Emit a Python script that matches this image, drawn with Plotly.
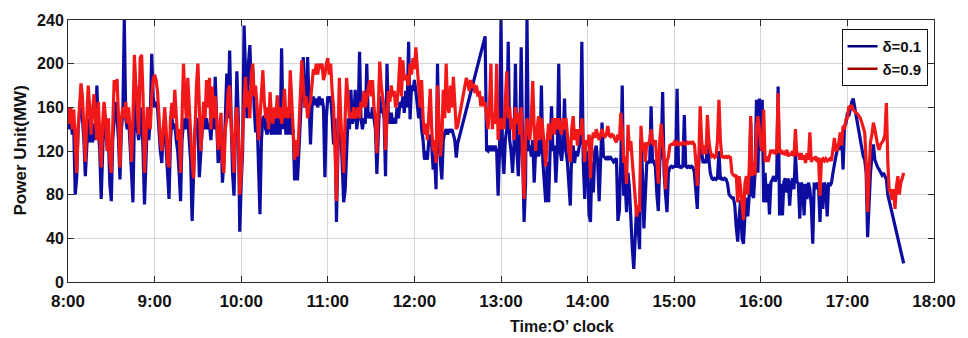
import plotly.graph_objects as go

# ---------------- data (minute-by-minute) ----------------
hour_ticks = [0, 60, 120, 180, 240, 300, 360, 420, 480, 540, 600]
hour_labels = ["8:00", "9:00", "10:00", "11:00", "12:00", "13:00",
               "14:00", "15:00", "16:00", "17:00", "18:00"]
y_ticks = [0, 40, 80, 120, 160, 200, 240]

# delta = 0.9 (red)
red_0800 = [160,145,160,140,158,120,100,140,165,182, 170,140,110,150,180,160,135,155,172,150,
            130,165,140,105,145,165,150,120,150,110, 100,140,185,175,186,150,105,150,160,150,
            165,145,160,140,110,150,208,180,150,135, 205,208,170,100,130,160,150,140,170,185]
red_0900 = [190,185,175,150,130,120,145,160,140,110, 105,150,164,150,176,150,130,140,100,150,
            200,170,150,187,160,130,110,95,150,180, 200,150,120,140,165,150,185,160,187,140,
            179,150,170,150,121,135,155,110,100,140, 150,175,180,145,120,100,150,160,140,80]
red_1000 = [100,140,165,188,160,175,150,190,200,170, 180,160,130,150,180,194,165,150,160,140,
            174,150,145,160,150,171,150,160,145,155, 177,150,160,150,194,165,150,112,130,115,
            140,170,203,180,160,170,150,160,165,180, 195,190,200,190,200,195,200,185,190,200]
red_1100 = [205,190,200,175,160,120,74,130,187,150, 130,100,150,187,170,150,155,150,160,150,
            155,160,150,165,160,175,160,170,180,185, 170,185,160,150,118,160,202,180,170,160,
            121,150,175,165,180,170,175,160,165,180, 206,170,203,185,190,185,180,200,190,205]
red_1200 = [195,215,195,170,160,185,150,135,145,130, 150,177,140,120,130,109,180,140,115,130,
            176,150,200,160,155,180,160,188,155,140, 143,150,160,165,172,180,187,182,175,185,
            178,182,173,180,170,175,161,170,161,165, 150,140,160,200,140,155,145,200,130,150]
red_1300 = [140,150,140,165,193,150,160,140,150,130, 160,145,155,135,160,110,76,130,150,140,
            130,150,184,140,120,140,152,130,150,140, 120,106,130,145,130,140,150,135,150,140,
            150,140,135,150,140,150,130,120,110,140, 152,130,140,125,140,135,150,130,110,130]
red_1400 = [125,135,95,130,137,132,140,135,130,135, 140,134,133,135,143,134,133,135,134,130,
            128,135,130,155,140,109,115,90,144,120, 129,110,90,70,60,70,64,143,120,128,
            110,128,125,130,140,128,125,130,105,90, 130,145,128,115,85,110,115,125,126,126]
red_1500 = [128,126,128,126,127,126,128,127,126,128, 127,128,127,128,126,110,88,110,161,130,
            117,125,117,153,130,120,115,116,114,115, 130,167,130,114,115,114,115,114,115,114,
            100,98,97,98,73,97,87,70,57,90, 97,80,105,152,97,110,98,140,152,140]
red_1600 = [125,120,158,110,115,110,115,121,118,121, 117,120,173,118,121,117,120,116,121,115,
            118,116,120,115,140,116,118,112,118,112, 116,109,118,112,137,110,114,112,115,110,
            114,79,112,113,111,113,111,112,113,111, 120,132,121,121,127,137,125,143,140,149]
red_1700 = [150,161,160,162,158,156,155,154,152,150, 146,140,137,110,64,100,128,135,146,140,
            132,125,121,126,128,130,135,164,110,82, 85,75,85,67,88,97,80,91,95,100]

# delta = 0.1 (blue); None = no sample (straight segment drawn across)
blue_0800 = [145,140,150,135,140,80,95,140,155,160, 150,130,97,130,150,128,140,128,145,130,
             180,140,120,76,130,160,140,125,130,90, 74,130,150,165,150,130,94,140,155,241,
             150,140,150,130,100,73,150,180,140,130, 150,160,120,71,110,150,130,150,209,170]
blue_0900 = [160,165,160,135,120,109,140,145,125,100, 76,130,150,140,145,130,120,100,74,130,
             145,150,140,150,130,110,56,90,140,150, 145,96,120,140,150,140,150,140,145,130,
             150,140,188,150,109,120,140,91,110,150, 191,150,212,150,100,79,140,193,150,46]
blue_1000 = [90,120,235,180,150,200,217,180,195,160, 137,150,110,62,130,150,152,140,135,150,
             140,135,155,135,150,135,155,135,214,140, 155,135,150,135,155,135,140,93,120,93,
             120,150,170,206,160,165,206,160,126,160, 170,162,168,160,170,162,168,160,96,150]
blue_1100 = [170,165,170,150,126,150,55,120,160,140, 100,73,84,120,150,140,176,145,150,176,
             140,150,211,150,140,150,145,200,150,155, 150,160,150,140,99,130,170,155,160,150,
             97,200,150,145,155,145,150,145,160,150, 165,160,170,155,175,160,220,149,180,175]
blue_1200 = ([185,175,160,150,165,140,130,112,120,112, 130,135,125,103,115,85,200,130,110,94,
              130,137,140,135,140,137,140,135,130,114, 127] + [None] * 18 +
             [225, 121,120,125,120,125,120,125,120,79,120])
blue_1300 = [241,120,99,130,140,220,130,120,100,125, 200,120,97,130,215,120,55,90,241,120,
             125,115,130,91,120,130,115,120,180,110, 90,73,110,73,120,161,120,125,91,120,
             200,120,111,125,168,120,110,90,70,120, 125,109,120,115,125,130,220,110,76,120]
blue_1400 = [110,62,55,110,82,120,125,110,74,115, 146,115,114,112,115,113,114,112,110,112,
             113,56,65,110,180,79,90,64,100,85, 50,30,12,40,70,50,30,131,100,49,
             90,109,110,109,161,109,110,105,80,65, 110,120,174,100,80,64,100,105,106,105]
blue_1500 = [106,106,177,105,106,105,106,153,106,105, 106,105,106,105,100,80,67,110,125,120,
             109,112,109,125,110,100,95,94,95,94, 95,120,94,95,94,95,94,90,80,78,
             77,77,70,50,37,60,75,40,35,60, 77,60,80,146,80,77,100,167,100,168]
blue_1600 = [120,167,73,100,73,90,62,91,95,97, 92,97,179,61,90,61,92,95,82,95,
             70,90,95,85,118,92,90,58,91,88, 61,90,76,91,85,70,35,91,85,91,
             88,55,91,67,91,88,60,91,88,91, 100,109,115,121,127,121,134,103,143,145]
blue_1700 = ([155,152,160,165,168,160,152,146,140,130, 121,115,112,100,41,74,100,115,126,112,
              108,105,103,100,98,100,96,94,80] + [None] * 10 + [17])

red_mw = (red_0800 + red_0900 + red_1000 + red_1100 + red_1200 +
          red_1300 + red_1400 + red_1500 + red_1600 + red_1700)
blue_mw = (blue_0800 + blue_0900 + blue_1000 + blue_1100 + blue_1200 +
           blue_1300 + blue_1400 + blue_1500 + blue_1600 + blue_1700)
minutes_red = list(range(len(red_mw)))
minutes_blue = list(range(len(blue_mw)))

BLUE = "#0c0ca0"
RED = "#f01818"
FONT = "Liberation Sans, Arial, sans-serif"

fig = go.Figure()
fig.add_trace(go.Scatter(x=minutes_blue, y=blue_mw, mode="lines", connectgaps=True,
                         line=dict(color=BLUE, width=3.2), showlegend=False))
fig.add_trace(go.Scatter(x=minutes_red, y=red_mw, mode="lines",
                         line=dict(color=RED, width=3.2), showlegend=False))
# legend samples
fig.add_trace(go.Scatter(x=[None], y=[None], mode="lines", name="δ=0.1",
                         line=dict(color="#000080", width=2.5)))
fig.add_trace(go.Scatter(x=[None], y=[None], mode="lines", name="δ=0.9",
                         line=dict(color="#a00000", width=2.5)))

axis_common = dict(showline=True, linecolor="#2a2a2a", linewidth=1, mirror="allticks",
                   ticks="inside", ticklen=6, tickcolor="#2a2a2a",
                   showgrid=True, gridcolor="#d6d6d6", gridwidth=1, zeroline=False)

fig.update_layout(
    width=968, height=338,
    margin=dict(l=68, r=25, t=18, b=56),
    paper_bgcolor="white", plot_bgcolor="white",
    xaxis=dict(range=[0, 600], tickvals=hour_ticks, ticktext=hour_labels,
               ticklabelstandoff=4,
               tickfont=dict(family=FONT, size=17, color="#111111", weight="bold"),
               **axis_common),
    yaxis=dict(range=[0, 240], tickvals=y_ticks,
               tickfont=dict(family=FONT, size=16, color="#111111", weight="bold"),
               **axis_common),
    legend=dict(x=0.9925, y=0.966, xanchor="right", yanchor="top",
                bgcolor="white", bordercolor="#111111", borderwidth=1,
                itemwidth=30, tracegroupgap=0,
                font=dict(family=FONT, size=15, color="#111111", weight="bold")),
    annotations=[
        dict(text="Power Unit(MW)", textangle=-90, xref="paper", yref="paper",
             x=-0.056, y=0.5, xanchor="center", yanchor="middle", showarrow=False,
             font=dict(family=FONT, size=17, color="#111111", weight="bold")),
        dict(text="Time:O’ clock", xref="paper", yref="paper",
             x=0.570, y=-0.168, xanchor="center", yanchor="middle", showarrow=False,
             font=dict(family=FONT, size=16, color="#111111", weight="bold")),
    ],
)

fig.write_html("out.html")
